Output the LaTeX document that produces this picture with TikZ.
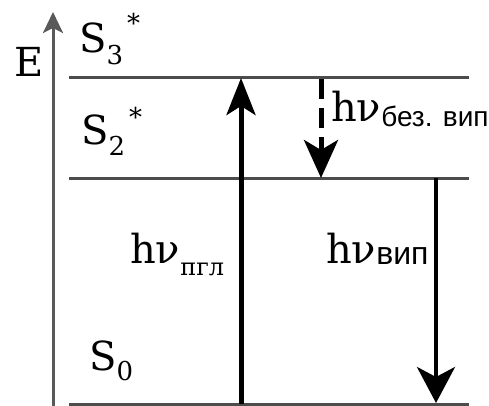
\documentclass[tikz,border=0pt]{standalone}
\usepackage{fontspec}
\newfontfamily\serf{DejaVu Serif}
\newfontfamily\sansf{Liberation Sans}
\usetikzlibrary{arrows.meta}
\newcommand\bigf{\serf\fontsize{40}{46}\selectfont}
\newcommand\subf{\serf\fontsize{26}{30}\selectfont}
\newcommand\lvlS[3]{S\raisebox{-#2pt}{\subf #1}\hspace{4pt}\raisebox{#3pt}{\subf *}}
\begin{document}
\begin{tikzpicture}[x=1pt,y=-1pt,
  level/.style={draw=black!70, line width=3pt},
  axisline/.style={draw=black!65, line width=3pt, -{Stealth[length=21pt,width=20pt,inset=5pt]}},
  uparrow/.style={draw=black, line width=5pt, -{Stealth[length=37pt,width=29pt,inset=9pt]}},
  downarrow/.style={draw=black, line width=4pt, -{Stealth[length=36pt,width=38pt,inset=10pt]}},
  dasharrow/.style={draw=black, line width=5pt, dash pattern=on 20pt off 9pt, -{Stealth[length=38pt,width=34pt,inset=10pt]}},
  lbl/.style={inner sep=0pt, anchor=base west, font=\bigf}]
\useasboundingbox (0,0) rectangle (489,406);
% coordinates
\coordinate (axB) at (53,406);
\coordinate (axT) at (53,12);
\coordinate (L3a) at (69,78);  \coordinate (L3b) at (469,78);
\coordinate (L2a) at (69,178); \coordinate (L2b) at (469,178);
\coordinate (L0a) at (69,404); \coordinate (L0b) at (469,404);
\coordinate (upB) at (241,404); \coordinate (upT) at (241,78);
\coordinate (dsT) at (321,79);  \coordinate (dsB) at (321,178);
\coordinate (dnT) at (436,178); \coordinate (dnB) at (436,403);
% lines
\draw[axisline] (axB) -- (axT);
\draw[level] (L3a) -- (L3b);
\draw[level] (L2a) -- (L2b);
\draw[level] (L0a) -- (L0b);
\draw[uparrow] (upB) -- (upT);
\draw[dasharrow] (dsT) -- (dsB);
\draw[downarrow] (dnT) -- (dnB);
% labels
\node[lbl] (E) at (14,77) {E};
\node[lbl] (S3) at (79,53) {\lvlS{3}{12}{20}};
\node[lbl] (S2) at (81,145) {\lvlS{2}{10}{18}};
\node[lbl] (S0) at (89,370) {S\raisebox{-10pt}{\subf 0}};
\node[lbl] (hpgl) at (130,263) {hν\raisebox{-12pt}{\serf\fontsize{24}{28}\selectfont пгл}};
\node[lbl] (hvyp) at (326,263) {hν\raisebox{-1pt}{\sansf\fontsize{32}{35}\selectfont вип}};
\node[lbl] (hbez) at (331,122) {hν\raisebox{-5pt}{\sansf\fontsize{28}{30}\selectfont без. вип}};
\end{tikzpicture}
\end{document}
